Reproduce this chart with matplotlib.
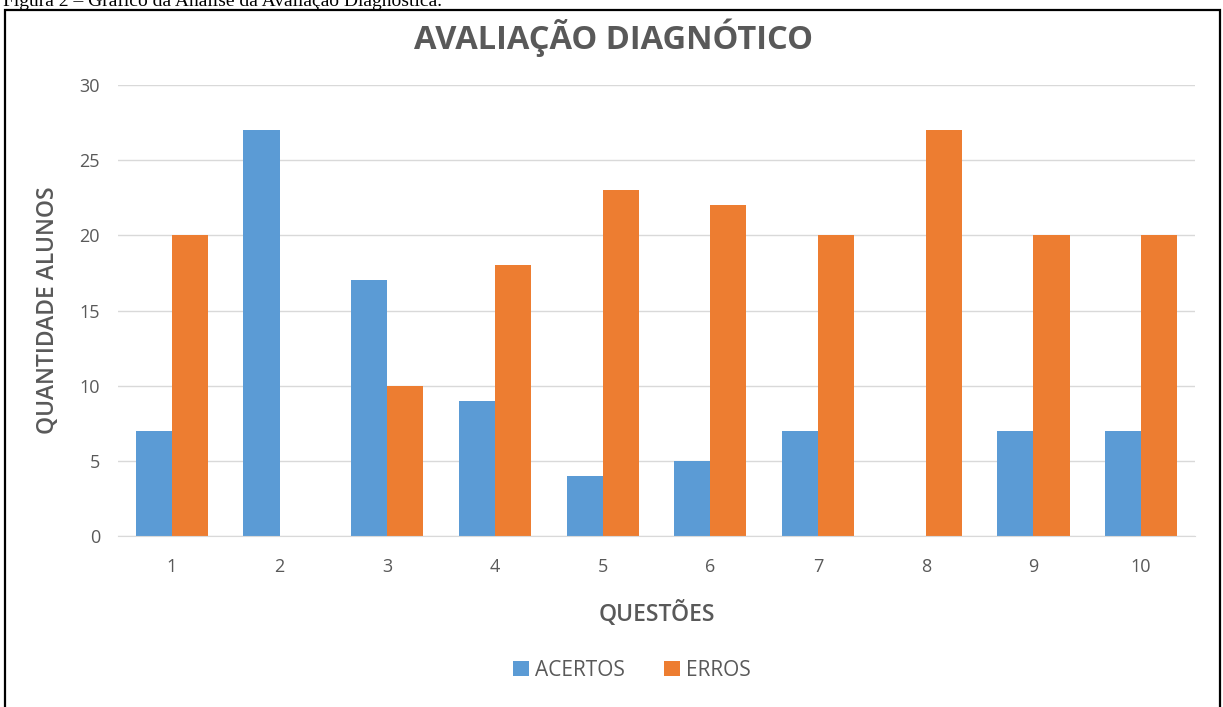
import matplotlib.pyplot as plt
import numpy as np
from matplotlib.patches import Rectangle

questoes = ["1", "2", "3", "4", "5", "6", "7", "8", "9", "10"]
acertos = [7, 27, 17, 9, 4, 5, 7, 0, 7, 7]
erros = [20, 0, 10, 18, 23, 22, 20, 27, 20, 20]

AZUL = "#5B9BD5"
LARANJA = "#ED7D31"
CINZA = "#595959"

plt.rcParams['font.family'] = ['Open Sans', 'DejaVu Sans']

W, H = 1223, 707
fig = plt.figure(figsize=(W / 100, H / 100), dpi=100)
fig.patch.set_facecolor("white")

# moldura do gráfico (sem borda inferior visível)
fig.patches.append(Rectangle((5 / W, -0.1), 1215 / W, 1.1 - 10 / H,
                             transform=fig.transFigure, fill=False,
                             edgecolor="black", linewidth=1.6))

# legenda da figura, cortada no topo
fig.text(3 / W, 1 - 6 / H, "Figura 2 – Gráfico da Análise da Avaliação Diagnóstica.",
         family="Liberation Serif", fontsize=14, color="black",
         ha="left", va="baseline")

ax = fig.add_axes([118 / W, 1 - 536 / H, (1195 - 118) / W, (536 - 85) / H])

x = np.arange(len(questoes))
w = 0.335
ax.bar(x - w / 2, acertos, w, color=AZUL, label="ACERTOS")
ax.bar(x + w / 2, erros, w, color=LARANJA, label="ERROS")

ax.set_xlim(-0.5, len(questoes) - 0.5)
ax.set_ylim(0, 30)
ax.set_yticks(range(0, 31, 5))
ax.set_xticks(x)
ax.set_xticklabels(questoes)

ax.grid(axis="y", color="#D9D9D9", linewidth=1)
ax.set_axisbelow(True)
for s in ["top", "right", "left"]:
    ax.spines[s].set_visible(False)
ax.spines["bottom"].set_color("#D9D9D9")
ax.tick_params(length=0, colors=CINZA, labelsize=13)
ax.tick_params(axis="y", pad=13)
ax.tick_params(axis="x", pad=16)

ax.set_ylabel("QUANTIDADE ALUNOS", fontsize=16.5, fontweight="semibold", color=CINZA, labelpad=14)
ax.set_xlabel("QUESTÕES", fontsize=16.5, fontweight="semibold", color=CINZA, labelpad=18)

fig.text(613 / W, 1 - 38 / H, "AVALIAÇÃO DIAGNÓTICO", fontsize=23.5, fontweight="bold",
         color=CINZA, ha="center", va="center")

fig.legend(loc="center", bbox_to_anchor=(632 / W, 1 - 670 / H), ncol=2, frameon=False,
           fontsize=15, labelcolor=CINZA, handlelength=0.75, handleheight=0.75,
           handletextpad=0.3, columnspacing=1.9)

fig.savefig("out.png", dpi=100)
